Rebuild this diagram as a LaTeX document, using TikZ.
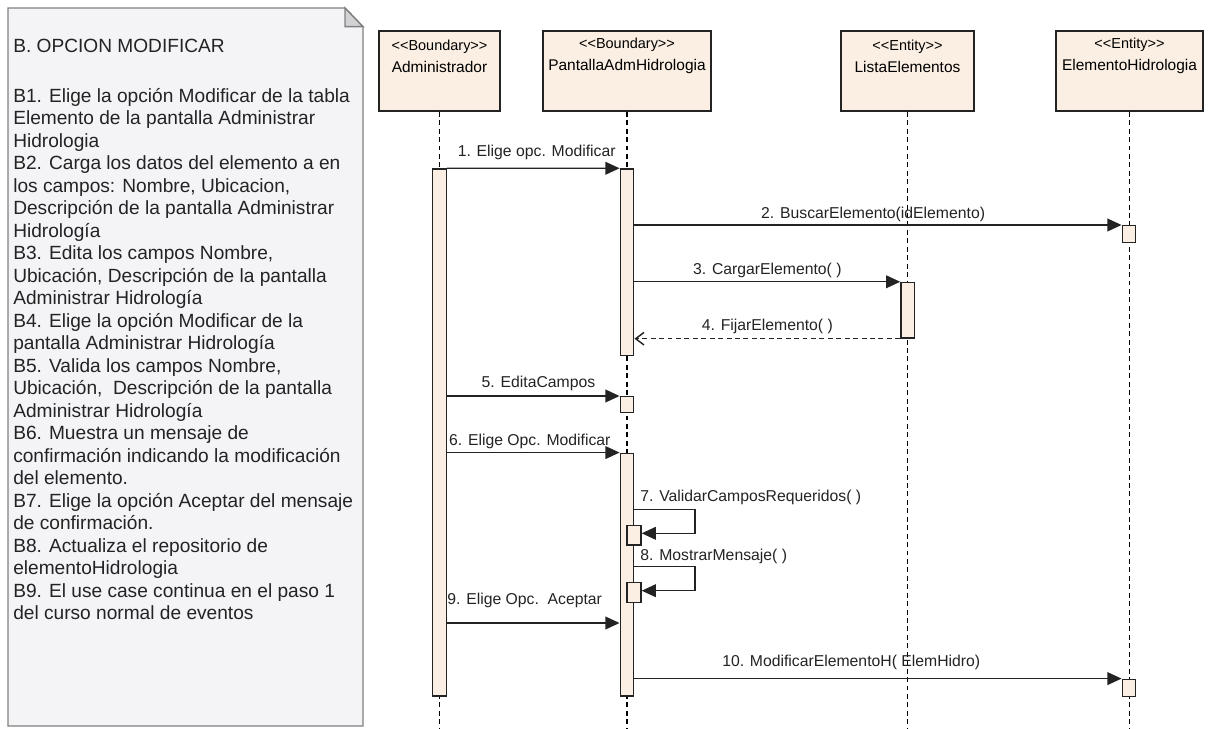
\documentclass[tikz,border=0pt]{standalone}
\usepackage{fontspec}
\setmainfont{Liberation Sans}
\usetikzlibrary{positioning}
\usetikzlibrary{arrows.meta}

\definecolor{notefill}{RGB}{244,244,247}
\definecolor{noteedge}{RGB}{128,128,128}
\definecolor{foldfill}{RGB}{210,210,212}
\definecolor{lifefill}{RGB}{250,239,226}
\definecolor{ink}{RGB}{35,35,35}

\tikzset{
  head/.style={draw=ink, line width=1.1pt, fill=lifefill, minimum height=2cm, inner sep=0pt},
  headtext/.style={align=center, font=\fontsize{11}{15.6}\selectfont, inner sep=0pt},
  lifeline/.style={draw=black, line width=0.9pt, dash pattern=on 3.5pt off 2.5pt},
  bar/.style={draw=ink, line width=1pt, fill=lifefill, minimum width=0.3375cm, inner sep=0pt},
  msg/.style={draw=ink, line width=1pt, -{Triangle[length=10pt,width=9pt]}},
  reply/.style={draw=ink, line width=1pt, dash pattern=on 3.5pt off 2.5pt, -{Straight Barb[length=6pt,width=9pt]}},
  lbl/.style={font=\fontsize{11.2}{13}\selectfont, inner sep=0pt, text=ink},
}

\newcommand{\stereo}[1]{{\fontsize{10.3}{15.6}\selectfont<{}<#1>{}>}}

\begin{document}
\begin{tikzpicture}[x=0.025cm, y=-0.025cm]
  \useasboundingbox (0,0) rectangle (1211,729);

  % note with the steps of the use case
  \draw[noteedge, line width=1pt, fill=notefill]
    (8,8) -- (345,8) -- (363,26.7) -- (363,726) -- (8,726) -- cycle;
  \draw[noteedge, line width=1pt, fill=foldfill]
    (345,8) -- (345,26.7) -- (363,26.7) -- cycle;
  \node[anchor=north west, align=left, inner sep=0pt, text=ink,
        font=\fontsize{13.6}{16}\selectfont] (steps) at (13,38.5) {%
    B. OPCION MODIFICAR\\[19.6pt]
    B1. Elige la opción Modificar de la tabla\\
    Elemento de la pantalla Administrar\\
    Hidrologia\\
    B2. Carga los datos del elemento a en\\
    los campos: Nombre, Ubicacion,\\
    Descripción de la pantalla Administrar\\
    Hidrología\\
    B3. Edita los campos Nombre,\\
    Ubicación, Descripción de la pantalla\\
    Administrar Hidrología\\
    B4. Elige la opción Modificar de la\\
    pantalla Administrar Hidrología\\
    B5. Valida los campos Nombre,\\
    Ubicación,\ \ Descripción de la pantalla\\
    Administrar Hidrología\\
    B6. Muestra un mensaje de\\
    confirmación indicando la modificación\\
    del elemento.\\
    B7. Elige la opción Aceptar del mensaje\\
    de confirmación.\\
    B8. Actualiza el repositorio de\\
    elementoHidrologia\\
    B9. El use case continua en el paso 1\\
    del curso normal de eventos};

  % objects
  \node[head, minimum width=3.025cm] (adm) at (439.5,71) {};
  \node[head, minimum width=4.2cm] (pan) at (627,71) {};
  \node[head, minimum width=3.325cm] (lis) at (907.5,71) {};
  \node[head, minimum width=3.675cm] (ele) at (1129.5,71) {};
  \node[headtext] at (439.5,56) {\stereo{Boundary}\\Administrador};
  \node[headtext] at (627,56) {\stereo{Boundary}\\PantallaAdmHidrologia};
  \node[headtext] at (907.5,56) {\stereo{Entity}\\ListaElementos};
  \node[headtext] at (1129.5,56) {\stereo{Entity}\\ElementoHidrologia};

  \coordinate (bottom) at (0,729);
  \foreach \obj in {adm,pan,lis,ele}
    \draw[lifeline] (\obj.south) -- (\obj.south |- bottom);

  % activations
  \node[bar, minimum height=13.175cm] (admbar) at (439.5,432.5) {};
  \node[bar, minimum height=4.6625cm] (panbar) at (627,262.25) {};
  \node[bar, minimum height=0.415cm] (elebox) at (1129,234) {};
  \node[bar, minimum height=1.3875cm] (lisbar) at (907.7,310.25) {};
  \node[bar, minimum height=0.39cm] (editbox) at (627,404.5) {};
  \node[bar, minimum height=6.0675cm] (modbar) at (627,574.65) {};
  \node[bar, minimum width=0.35cm, minimum height=0.4825cm] (valbox) at (634,535.35) {};
  \node[bar, minimum width=0.35cm, minimum height=0.49cm] (msjbox) at (634,592.5) {};
  \node[bar, minimum height=0.435cm] (updbox) at (1129,688) {};

  % messages
  \draw[msg] (admbar.north east) -- (panbar.north west)
    node[lbl, pos=0.52, above=5.5pt] {1. Elige opc. Modificar};
  \draw[msg] (panbar.east |- elebox.north) -- (elebox.north west)
    node[lbl, pos=0.49, above=1.8pt] {2. BuscarElemento(idElemento)};
  \draw[msg] (panbar.east |- lisbar.north) -- (lisbar.north west)
    node[lbl, midway, above=2.4pt] {3. CargarElemento( )};
  \draw[reply] (lisbar.south west) -- (panbar.east |- lisbar.south)
    node[lbl, midway, above=3.2pt] {4. FijarElemento( )};
  \draw[msg] (admbar.east |- editbox.north) -- (editbox.north west)
    node[lbl, pos=0.53, above=3pt] {5. EditaCampos};
  \draw[msg] (admbar.east |- modbar.north) -- (modbar.north west)
    node[lbl, pos=0.48, above=2.4pt] {6. Elige Opc. Modificar};

  \coordinate (out7) at (695,509.3);
  \coordinate (back7) at (695,533.3);
  \draw[msg] (modbar.east |- out7) -- (out7) -- (back7) -- (valbox.east |- back7);
  \node[lbl, anchor=west] at (640,497) {7. ValidarCamposRequeridos( )};

  \coordinate (out8) at (695,566.7);
  \coordinate (back8) at (695,590.7);
  \draw[msg] (modbar.east |- out8) -- (out8) -- (back8) -- (msjbox.east |- back8);
  \node[lbl, anchor=west] at (640,556) {8. MostrarMensaje( )};

  \coordinate (call9) at (439.5,623);
  \draw[msg] (admbar.east |- call9) -- (modbar.west |- call9)
    node[lbl, pos=0.45, above=10.4pt] {9. Elige Opc.\ \ Aceptar};
  \draw[msg] (modbar.east |- updbox.north) -- (updbox.north west)
    node[lbl, pos=0.445, above=6pt] {10. ModificarElementoH( ElemHidro)};
\end{tikzpicture}
\end{document}
